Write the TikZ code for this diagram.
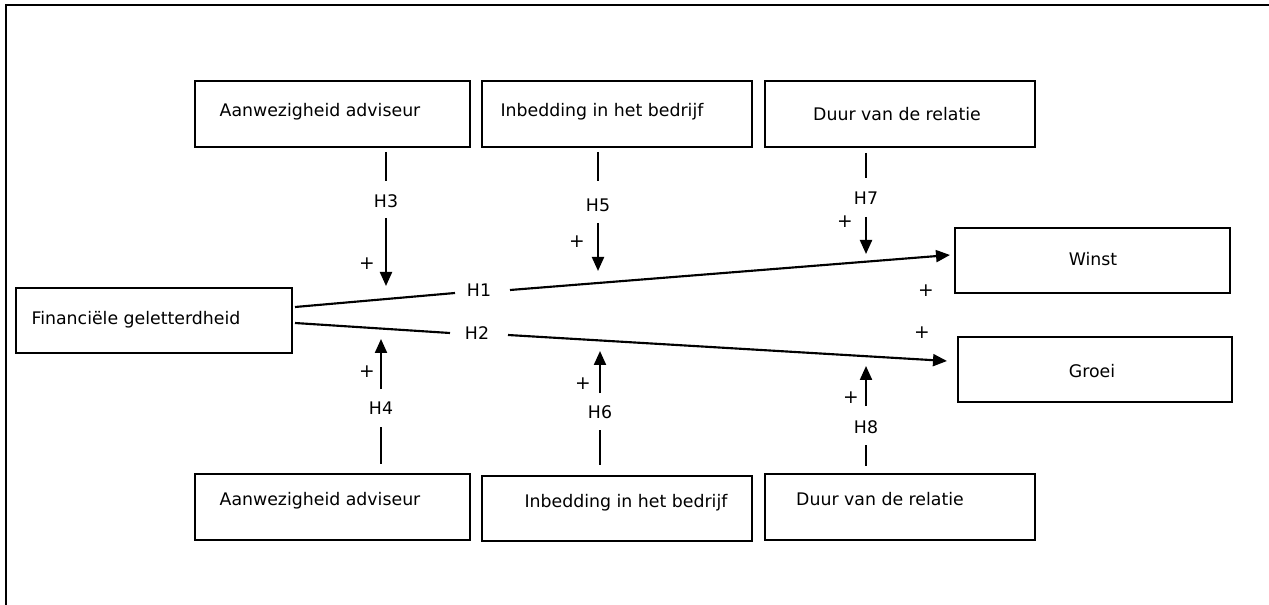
\documentclass[tikz,border=0pt]{standalone}
\usepackage{fontspec}
\setmainfont{DejaVu Sans}
\usetikzlibrary{arrows.meta}
\begin{document}
\begin{tikzpicture}[x=0.75pt,y=-0.75pt,
  box/.style={draw,line width=1.6pt,rectangle,inner sep=0pt},
  txt/.style={font=\fontsize{13pt}{15pt}\selectfont,inner sep=0pt,anchor=center},
  lab/.style={font=\fontsize{13pt}{15pt}\selectfont,inner sep=0pt},
  plus/.style={font=\fontsize{14pt}{15pt}\selectfont,inner sep=0pt},
  ln/.style={line width=1.6pt},
  arr/.style={line width=1.6pt,-{Triangle[length=10.5pt,width=9pt]}}]
\useasboundingbox (0,0) rectangle (1269,605);
\draw[line width=1.6pt] (6,605) -- (6,5) -- (1269,5);
% boxes
\node[box,minimum width=275*0.75pt,minimum height=66*0.75pt] (t1) at (332.5,114) {};
\node[box,minimum width=270*0.75pt,minimum height=66*0.75pt] (t2) at (617,114) {};
\node[box,minimum width=270*0.75pt,minimum height=66*0.75pt] (t3) at (900,114) {};
\node[box,minimum width=275*0.75pt,minimum height=66*0.75pt] (b1) at (332.5,507) {};
\node[box,minimum width=270*0.75pt,minimum height=65*0.75pt] (b2) at (617,508.5) {};
\node[box,minimum width=270*0.75pt,minimum height=66*0.75pt] (b3) at (900,507) {};
\node[box,minimum width=276*0.75pt,minimum height=65*0.75pt] (fg) at (154,320.5) {};
\node[box,minimum width=275*0.75pt,minimum height=65*0.75pt] (w) at (1092.5,260.5) {};
\node[box,minimum width=274*0.75pt,minimum height=65*0.75pt] (g) at (1095,369.5) {};
% texts
\node[txt] (t1t) at (320,112) {Aanwezigheid adviseur};
\node[txt] (t2t) at (602,112) {Inbedding in het bedrijf};
\node[txt] (t3t) at (897,114) {Duur van de relatie};
\node[txt] (b1t) at (320,501) {Aanwezigheid adviseur};
\node[txt] (b2t) at (626,503) {Inbedding in het bedrijf};
\node[txt] (b3t) at (880,499) {Duur van de relatie};
\node[txt] (fgt) at (136,320) {Financiële geletterdheid};
\node[txt] (wt) at (1093,259) {Winst};
\node[txt] (gt) at (1092,371) {Groei};
% main paths
\node[lab] (h1) at (479,290) {H1};
\node[lab] (h2) at (477,333) {H2};
\coordinate (a1s) at (295,307);
\coordinate (a1e) at (455,293);
\coordinate (a1s2) at (510,290);
\coordinate (a1t) at (950,255);
\coordinate (a2s) at (295,323);
\coordinate (a2e) at (450,333);
\coordinate (a2s2) at (508,335);
\coordinate (a2t) at (947,361);
\draw[ln] (a1s) -- (a1e);
\draw[arr] (a1s2) -- (a1t);
\draw[ln] (a2s) -- (a2e);
\draw[arr] (a2s2) -- (a2t);
% top moderators
\node[lab] (h3) at (386,201) {H3};
\node[lab] (h5) at (598,205) {H5};
\node[lab] (h7) at (866,198) {H7};
\draw[ln] (386,152) -- (386,181);
\draw[arr] (386,218) -- (386,286);
\draw[ln] (598,152) -- (598,181);
\draw[arr] (598,223) -- (598,271);
\draw[ln] (866,153) -- (866,178);
\draw[arr] (866,217) -- (866,254);
\node[plus] (p3) at (367,264) {+};
\node[plus] (p5) at (577,242) {+};
\node[plus] (p7) at (845,222) {+};
% bottom moderators
\node[lab] (h4) at (381,408) {H4};
\node[lab] (h6) at (600,412) {H6};
\node[lab] (h8) at (866,427) {H8};
\draw[ln] (381,427) -- (381,464);
\draw[arr] (381,389) -- (381,339);
\draw[ln] (600,430) -- (600,465);
\draw[arr] (600,393) -- (600,351);
\draw[ln] (866,445) -- (866,466);
\draw[arr] (866,406) -- (866,366);
\node[plus] (p4) at (367,372) {+};
\node[plus] (p6) at (583,384) {+};
\node[plus] (p8) at (851,398) {+};
\node[plus] (pw) at (926,291) {+};
\node[plus] (pg) at (922,333) {+};
\end{tikzpicture}
\end{document}
